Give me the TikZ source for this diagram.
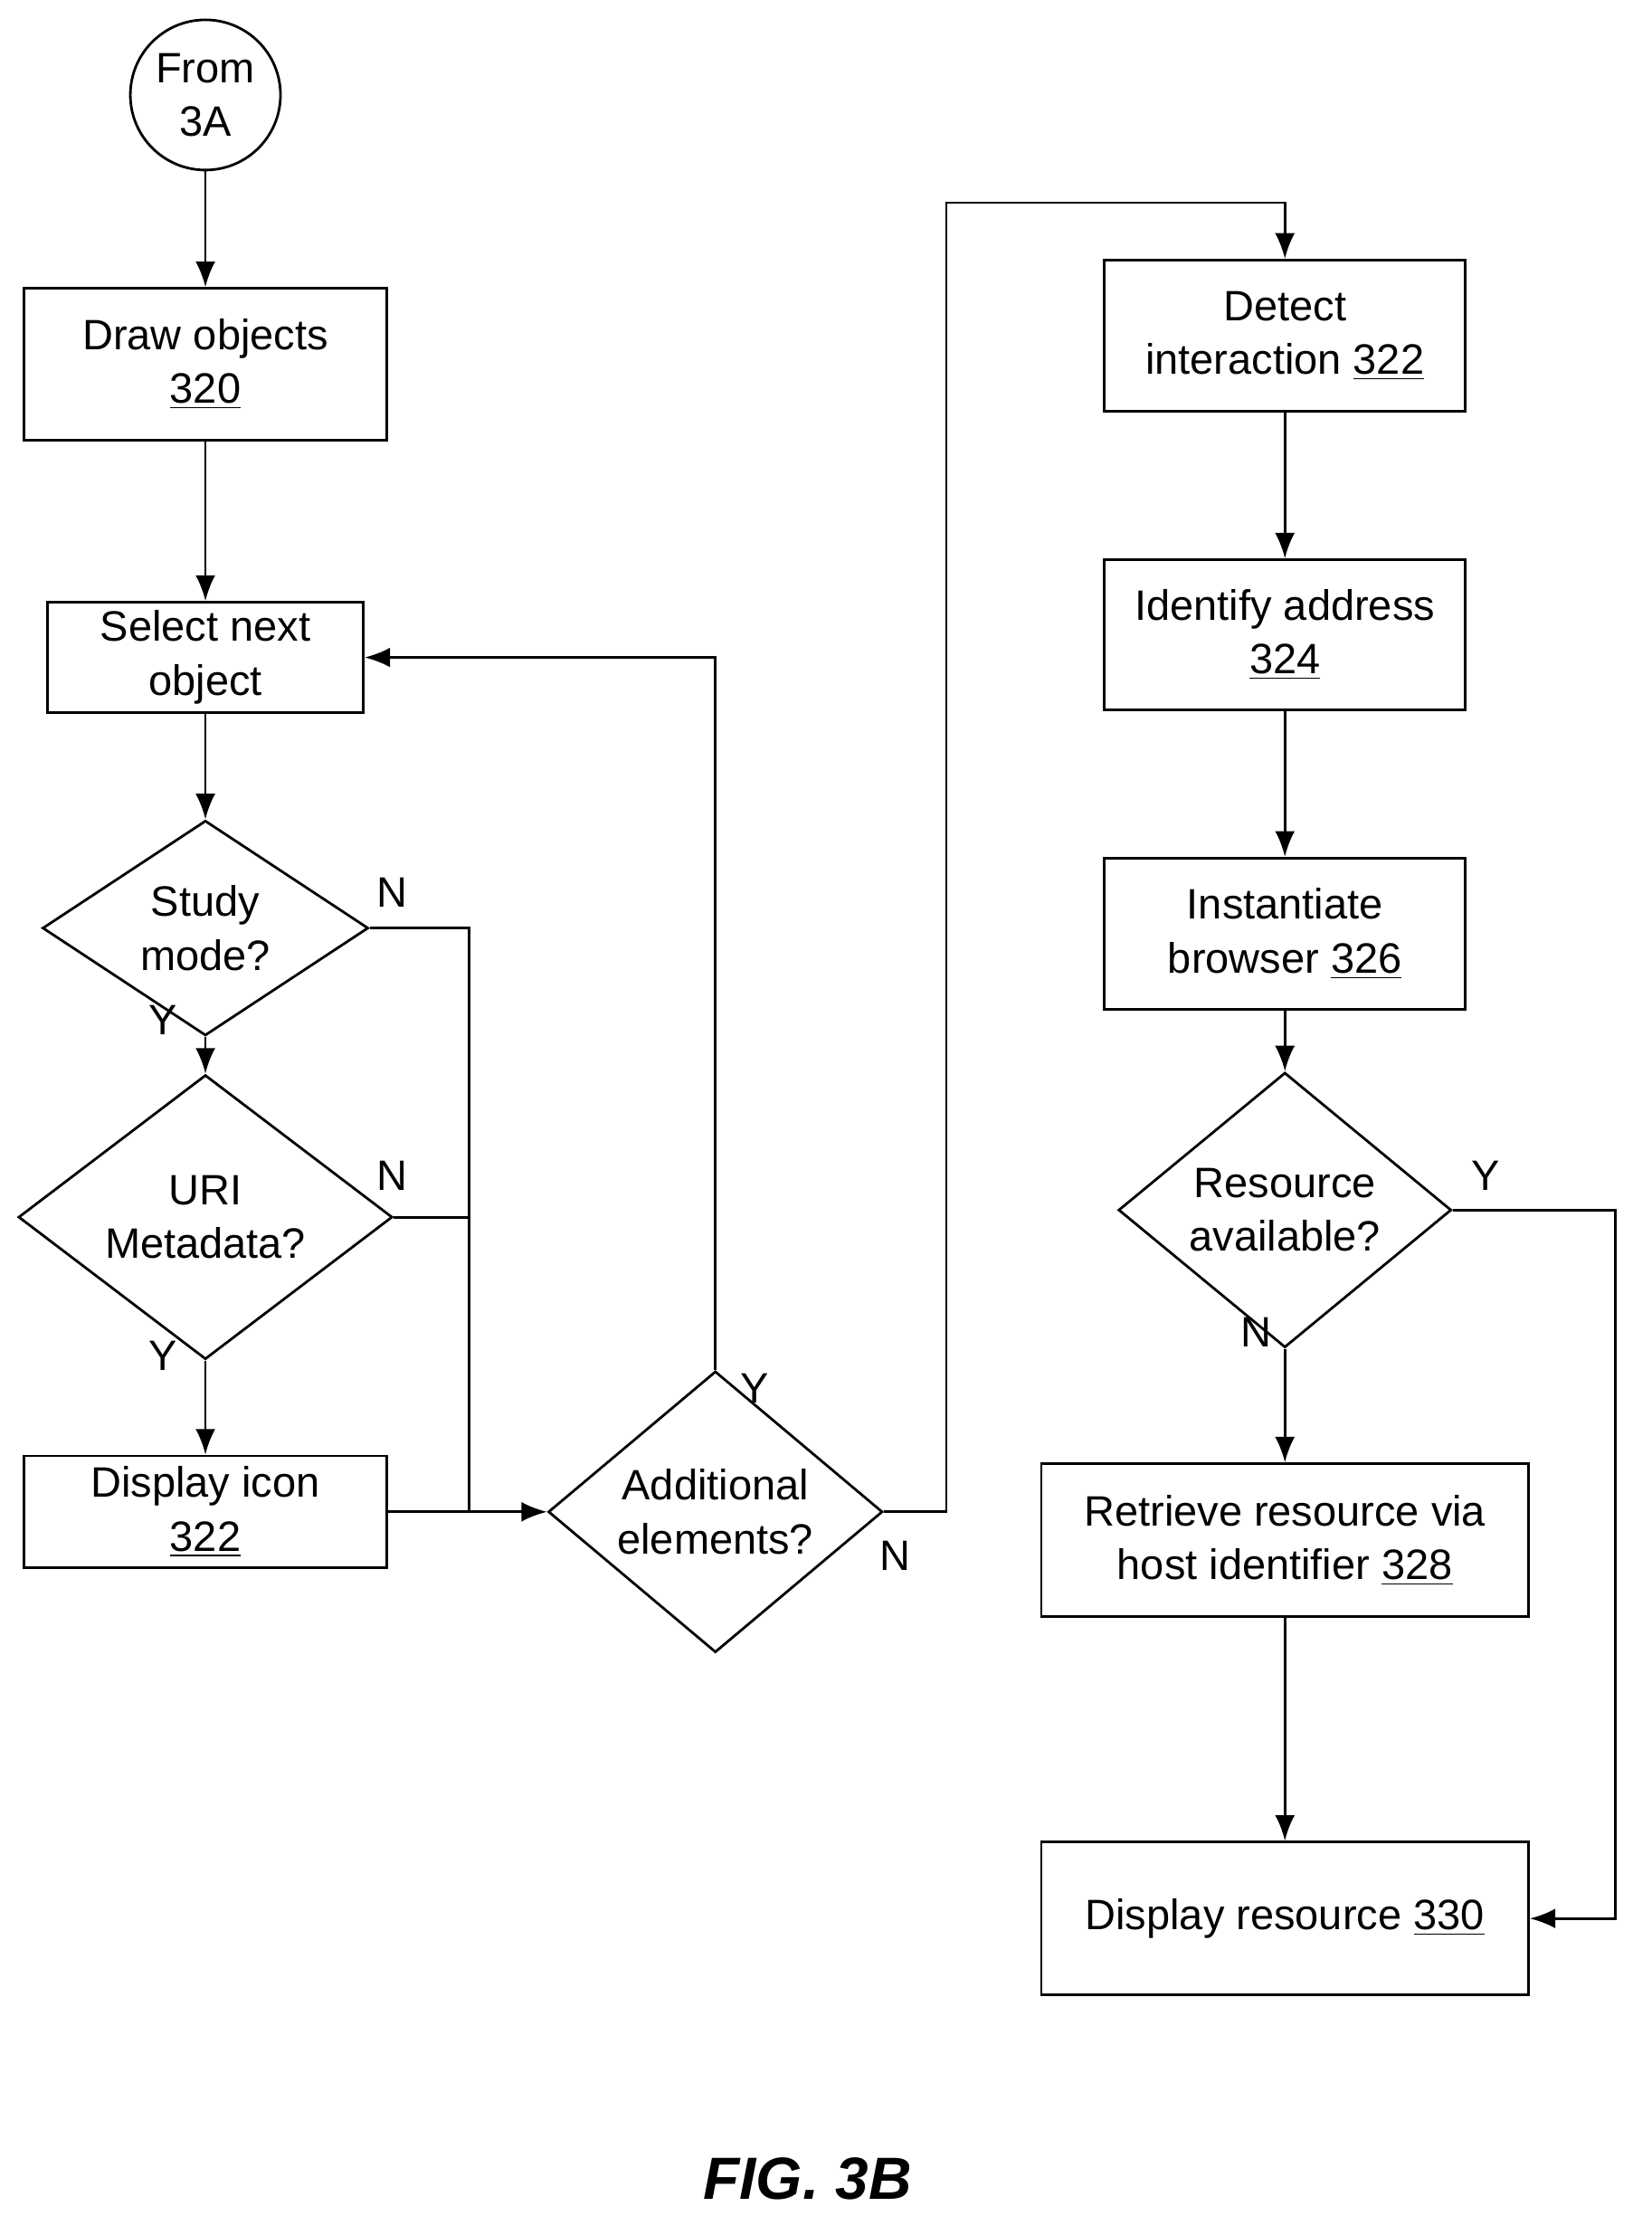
\documentclass[tikz,border=0pt]{standalone}
\usepackage{fontspec}
\setmainfont{Liberation Sans}
\usetikzlibrary{shapes.geometric,arrows.meta}
\begin{document}
\begin{tikzpicture}[x=0.5pt,y=-0.5pt,
  every node/.style={font=\fontsize{15}{19}\selectfont},
  box/.style={draw,line width=0.9pt,align=center,inner sep=0pt},
  dia/.style={draw,line width=0.9pt,diamond,align=center,inner sep=0pt},
  arr/.style={line width=0.9pt,-{Latex[length=9pt,width=7pt]}},
  ln/.style={line width=0.9pt},
  lab/.style={font=\fontsize{15}{19}\selectfont}]
\useasboundingbox (0,0) rectangle (1166,1564);
\node[draw,circle,line width=0.9pt,minimum size=53pt,align=center,inner sep=0pt] (from) at (145,67) {From\\3A};
\node[box,minimum width=128pt,minimum height=53.5pt] (draw) at (145,257) {Draw objects\\\underline{320}};
\node[box,minimum width=111.5pt,minimum height=39pt] (sel) at (145,464) {Select next\\object};
\node[dia,minimum width=115pt,minimum height=57pt] (study) at (145,655) {Study\\mode?};
\node[dia,minimum width=132pt,minimum height=83.5pt] (uri) at (145,859) {URI\\Metadata?};
\node[box,minimum width=128pt,minimum height=39.5pt] (icon) at (145,1067) {Display icon\\\underline{322}};
\node[dia,minimum width=118pt,minimum height=74pt] (add) at (505,1067) {Additional\\elements?};
\node[box,minimum width=127.5pt,minimum height=53.5pt] (det) at (907,237) {Detect\\interaction \underline{322}};
\node[box,minimum width=127.5pt,minimum height=53pt] (idn) at (907,448) {Identify address\\\underline{324}};
\node[box,minimum width=127.5pt,minimum height=53.5pt] (ins) at (907,659) {Instantiate\\browser \underline{326}};
\node[dia,minimum width=117.5pt,minimum height=73pt] (res) at (907,854) {Resource\\available?};
\node[box,minimum width=172pt,minimum height=54pt] (ret) at (907,1087) {Retrieve resource via\\host identifier \underline{328}};
\node[box,minimum width=172pt,minimum height=54pt] (disp) at (907,1354) {Display resource \underline{330}};
\node[font=\fontsize{21}{25}\selectfont\bfseries\itshape] (fig) at (570,1538) {FIG. 3B};
\coordinate (j1) at (331,655);
\coordinate (j2) at (331,1067);
\coordinate (j3) at (331,859);
\coordinate (ya) at (505,464);
\coordinate (na) at (668,1067);
\coordinate (nb) at (668,143);
\coordinate (nc) at (907,143);
\coordinate (ra) at (1140,854);
\coordinate (rb) at (1140,1354);
\draw[arr] (from) -- (draw);
\draw[arr] (draw) -- (sel);
\draw[arr] (sel) -- (study);
\draw[arr] (study) -- (uri);
\draw[arr] (uri) -- (icon);
\draw[ln] (study.east) -- (j1) -- (j2);
\draw[ln] (uri.east) -- (j3);
\draw[arr] (icon) -- (add);
\draw[arr] (add.north) -- (ya) -- (sel.east);
\draw[arr] (add.east) -- (na) -- (nb) -- (nc) -- (det.north);
\draw[arr] (det) -- (idn);
\draw[arr] (idn) -- (ins);
\draw[arr] (ins) -- (res);
\draw[arr] (res) -- (ret);
\draw[arr] (ret) -- (disp);
\draw[arr] (res.east) -- (ra) -- (rb) -- (disp.east);
\node[lab] (l1) at (115,720) {Y};
\node[lab] (l2) at (115,957) {Y};
\node[lab] (l3) at (277,630) {N};
\node[lab] (l4) at (277,830) {N};
\node[lab] (l5) at (533,980) {Y};
\node[lab] (l6) at (632,1098) {N};
\node[lab] (l7) at (887,940) {N};
\node[lab] (l8) at (1049,830) {Y};
\end{tikzpicture}
\end{document}
